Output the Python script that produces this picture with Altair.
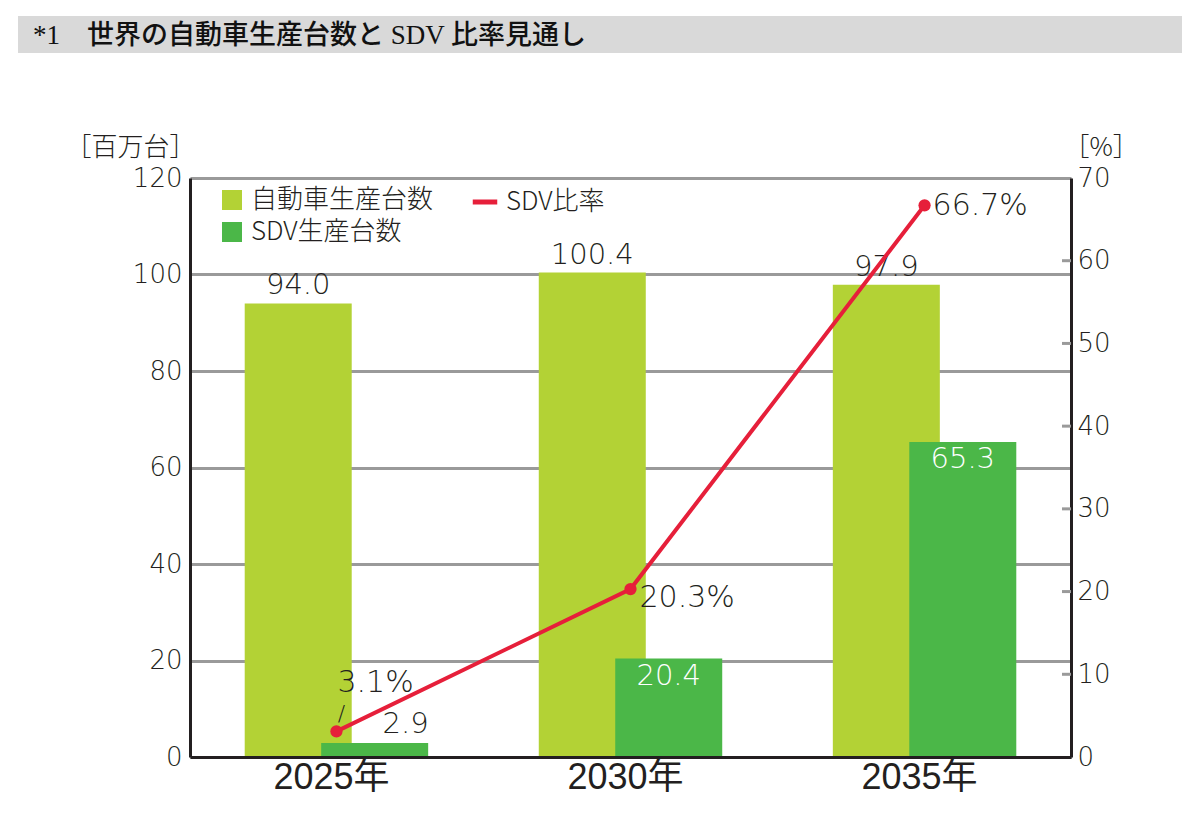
import altair as alt
import pandas as pd

# ---------------- data ----------------
title_text = "*1　世界の自動車生産台数と SDV 比率見通し"
years = ["2025年", "2030年", "2035年"]
total_units = [94.0, 100.4, 97.9]      # 自動車生産台数 [百万台]
sdv_units = [2.9, 20.4, 65.3]          # SDV生産台数 [百万台]
sdv_ratio = [3.1, 20.3, 66.7]          # SDV比率 [%]
series_names = ["自動車生産台数", "SDV生産台数"]
ratio_name = "SDV比率"
left_ticks = [0, 20, 40, 60, 80, 100, 120]
right_ticks = [0, 10, 20, 30, 40, 50, 60, 70]
right_inner_ticks = [10, 20, 30, 40, 50, 60]

bars_df = pd.DataFrame({
    "year": years * 2,
    "series": [series_names[0]] * 3 + [series_names[1]] * 3,
    "value": total_units + sdv_units,
})
bars_df["label"] = bars_df["value"].map(lambda v: f"{v:.1f}")
ratio_df = pd.DataFrame({"year": years, "ratio": sdv_ratio, "name": ratio_name})
ratio_df["label"] = ratio_df["ratio"].map(lambda v: f"{v:.1f}%")
ticks_df = pd.DataFrame({"ratio": right_inner_ticks})
title_df = pd.DataFrame({"t": [title_text]})

# ---------------- styles ----------------
LIGHT = "#b3d235"
DARK = "#4bb748"
RED = "#e61f3a"
GRID = "#9a9a9a"
TXT = "#231f20"
NUM_FONT = "DejaVu Sans"
NUM_W = 300
JP_FONT = "Noto Sans CJK JP"
YEAR_FONT = "Liberation Sans, Noto Sans CJK JP"

x_enc = alt.X(
    "year:N", sort=years,
    scale=alt.Scale(paddingInner=0.48, paddingOuter=0.238),
    axis=alt.Axis(title=None, labelAngle=0, labelFont=YEAR_FONT, labelFontSize=36,
                  labelColor=TXT, labelPadding=3, labelOffset=-5, ticks=False,
                  domainColor=TXT, domainWidth=3, zindex=1, grid=False),
)
xoff_enc = alt.XOffset("series:N", sort=series_names,
                       scale=alt.Scale(paddingInner=0, paddingOuter=0))

y_left = alt.Y(
    "value:Q", scale=alt.Scale(domain=[0, 120], nice=False),
    axis=alt.Axis(values=left_ticks, title="［百万台］", titleAngle=0, titleAlign="right",
                  titleBaseline="middle", titleX=5, titleY=-31, titleFont=JP_FONT,
                  titleFontSize=26, titleFontWeight=300, titleColor=TXT,
                  labelFont=NUM_FONT, labelFontWeight=NUM_W, labelFontSize=26, labelColor=TXT,
                  labelPadding=8, ticks=False, domainColor=TXT, domainWidth=3,
                  grid=True, gridColor=GRID, gridWidth=3),
)
y_right = alt.Y(
    "ratio:Q", scale=alt.Scale(domain=[0, 70], nice=False),
    axis=alt.Axis(orient="right", values=right_ticks, title="［%］", titleAngle=0,
                  titleAlign="left", titleBaseline="middle", titleX=-8, titleY=-31,
                  titleFont=JP_FONT, titleFontSize=26, titleFontWeight=300, titleColor=TXT,
                  labelFont=NUM_FONT, labelFontWeight=NUM_W, labelFontSize=26, labelColor=TXT,
                  labelPadding=6, ticks=False, domainColor=TXT, domainWidth=3,
                  grid=False),
)

base_bars = alt.Chart(bars_df)

bars = base_bars.mark_bar(size=107).encode(
    x=x_enc, xOffset=xoff_enc, y=y_left,
    color=alt.Color("series:N", sort=series_names,
                    scale=alt.Scale(domain=series_names, range=[LIGHT, DARK]),
                    legend=alt.Legend(title=None, orient="none", legendX=29, legendY=9,
                                      direction="vertical", symbolType="square",
                                      symbolSize=400, symbolStrokeWidth=0,
                                      labelFont=JP_FONT, labelFontWeight=300,
                                      labelFontSize=26, labelColor=TXT, labelLimit=0,
                                      labelOffset=6, rowPadding=6)),
)

total_text = base_bars.transform_filter(
    alt.datum.series == series_names[0]
).mark_text(baseline="bottom", dy=-3, font=NUM_FONT, fontWeight=NUM_W, fontSize=29,
            color=TXT).encode(x=x_enc, xOffset=xoff_enc, y=y_left, text="label:N")

sdv_in_text = base_bars.transform_filter(
    (alt.datum.series == series_names[1]) & (alt.datum.value >= 10)
).mark_text(baseline="top", dy=3, font=NUM_FONT, fontWeight=NUM_W, fontSize=29,
            color="white").encode(x=x_enc, xOffset=xoff_enc, y=y_left, text="label:N")

sdv_out_text = base_bars.transform_filter(
    (alt.datum.series == series_names[1]) & (alt.datum.value < 10)
).mark_text(baseline="bottom", dx=31, dy=-4, font=NUM_FONT, fontWeight=NUM_W,
            fontSize=29, color=TXT).encode(x=x_enc, xOffset=xoff_enc, y=y_left,
                                           text="label:N")

left_layer = alt.layer(bars, total_text, sdv_in_text, sdv_out_text)

base_ratio = alt.Chart(ratio_df)
line = base_ratio.mark_line(strokeWidth=4).encode(
    x=x_enc, y=y_right,
    stroke=alt.Stroke("name:N", scale=alt.Scale(domain=[ratio_name], range=[RED]),
                      legend=alt.Legend(title=None, orient="none", legendX=280, legendY=9,
                                        symbolType="stroke", symbolSize=600,
                                        symbolStrokeWidth=5, labelFont=JP_FONT,
                                        labelFontWeight=300, labelLimit=0,
                                        labelFontSize=26, labelColor=TXT, labelOffset=6)),
)
points = base_ratio.mark_point(filled=True, size=150, opacity=1, color=RED).encode(
    x=x_enc, y=y_right)

inner_ticks = alt.Chart(ticks_df).mark_rule(color=GRID, strokeWidth=3).encode(
    x=alt.value(872), x2=alt.value(881), y=y_right)

r_hi = base_ratio.transform_filter(alt.datum.year == years[2]).mark_text(
    align="left", baseline="middle", dx=8, dy=1, font=NUM_FONT, fontWeight=NUM_W,
    fontSize=30, color=TXT).encode(x=x_enc, y=y_right, text="label:N")
r_mid = base_ratio.transform_filter(alt.datum.year == years[1]).mark_text(
    align="left", baseline="middle", dx=9, dy=9, font=NUM_FONT, fontWeight=NUM_W,
    fontSize=30, color=TXT).encode(x=x_enc, y=y_right, text="label:N")
r_lo = base_ratio.transform_filter(alt.datum.year == years[0]).mark_text(
    align="left", baseline="middle", dx=1, dy=-48, font=NUM_FONT, fontWeight=NUM_W,
    fontSize=30, color=TXT).encode(x=x_enc, y=y_right, text="label:N")
r_lo_leader = base_ratio.transform_filter(alt.datum.year == years[0]).mark_text(
    align="center", baseline="middle", dx=5, dy=-17, font=NUM_FONT, fontWeight=NUM_W,
    fontSize=22, color=TXT, text="/").encode(x=x_enc, y=y_right)

right_layer = alt.layer(inner_ticks, line, points, r_hi, r_mid, r_lo, r_lo_leader)

title_bar = alt.Chart(title_df).mark_rect(color="#d9d9d9").encode(
    x=alt.value(-172), x2=alt.value(992), y=alt.value(-162), y2=alt.value(-125))
title_txt = alt.Chart(title_df).mark_text(
    align="left", baseline="middle", font="Liberation Serif, Noto Sans CJK JP",
    fontWeight=500, fontSize=27, color="#111").encode(
    x=alt.value(-157), y=alt.value(-142), text="t:N")

chart = alt.layer(left_layer, right_layer, title_bar, title_txt).resolve_scale(
    y="independent", color="independent"
).properties(
    width=881, height=579,
    autosize=alt.AutoSizeParams(type="none"),
    padding={"left": 182, "top": 170, "right": 112, "bottom": 45},
).configure_view(stroke=None).configure(background="white")

chart.save("out.html", embed_options={"renderer": "svg", "actions": False})
